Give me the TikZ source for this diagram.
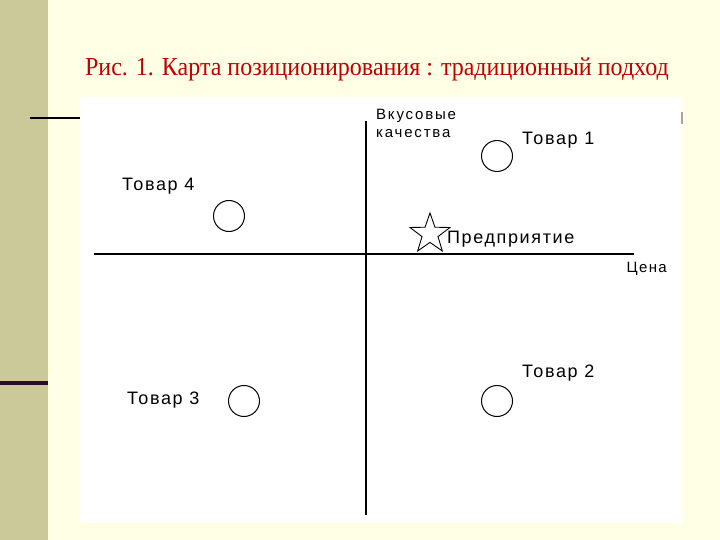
\documentclass[tikz,border=0pt]{standalone}
\usepackage{fontspec}
\setmainfont{Liberation Serif}
\newfontfamily\prodfont{Liberation Sans}[LetterSpace=9]
\newfontfamily\axisfont{Liberation Sans}[LetterSpace=12]
\usetikzlibrary{positioning,shapes.geometric}
\definecolor{slidebg}{HTML}{FFFFE6}
\definecolor{slideolive}{HTML}{CBC99A}
\definecolor{titlered}{HTML}{C00000}
\definecolor{darkbar}{HTML}{2A0A2E}

\begin{document}
\begin{tikzpicture}[x=1pt,y=-1pt,
  good/.style={circle,draw,line width=1pt,minimum size=31pt,inner sep=0pt},
  firm/.style={star,star points=5,star point ratio=2.5,draw,line width=0.9pt,minimum size=42pt,inner sep=0pt},
  prod/.style={font=\prodfont\fontsize{18}{20}\selectfont,inner sep=0pt},
  axislbl/.style={font=\axisfont\fontsize{15}{18}\selectfont,inner sep=0pt,align=left},
  axis/.style={line width=1.6pt}]
  \useasboundingbox (0,0) rectangle (720,540);
  % slide background
  \fill[slidebg] (0,0) rectangle (720,540);
  \fill[slideolive] (0,0) rectangle (48,540);
  \fill[darkbar] (0,381) rectangle (48,385);
  \draw[line width=2pt] (30,118) -- (82,118);
  \fill[white] (80,97) rectangle (682,523);
  \fill[gray!70] (681,112) rectangle (683,124);
  \node[text=titlered,font=\fontsize{24}{28}\selectfont,yscale=1.08] (title) at (377,69)
    {Рис. 1. Карта позиционирования : традиционный подход};
  % axes
  \coordinate (xl) at (94,254);
  \coordinate (xr) at (634,254);
  \coordinate (yt) at (366,121);
  \coordinate (yb) at (366,515);
  \draw[axis] (xl) -- (xr);
  \draw[axis] (yt) -- (yb);
  \node[axislbl,anchor=north west] (taste) at (376,109) {Вкусовые\\качества};
  \node[axislbl,font=\prodfont\fontsize{15}{18}\selectfont,anchor=north east] (price) at (667,262) {Цена};
  % goods
  \node[good] (g1) at (497,156) {};
  \node[good] (g2) at (497,401) {};
  \node[good] (g3) at (244,401) {};
  \node[good] (g4) at (229,216) {};
  \node[prod,anchor=west] (l1) at (522,140) {Товар 1};
  \node[prod,anchor=west] (l2) at (522,373) {Товар 2};
  \node[prod,anchor=west] (l3) at (127,400) {Товар 3};
  \node[prod,anchor=west] (l4) at (122,186) {Товар 4};
  % the firm
  \node[firm] (star) at (430,234) {};
  \node[prod,anchor=west] (firmlbl) at (447,239) {Предприятие};
\end{tikzpicture}
\end{document}
